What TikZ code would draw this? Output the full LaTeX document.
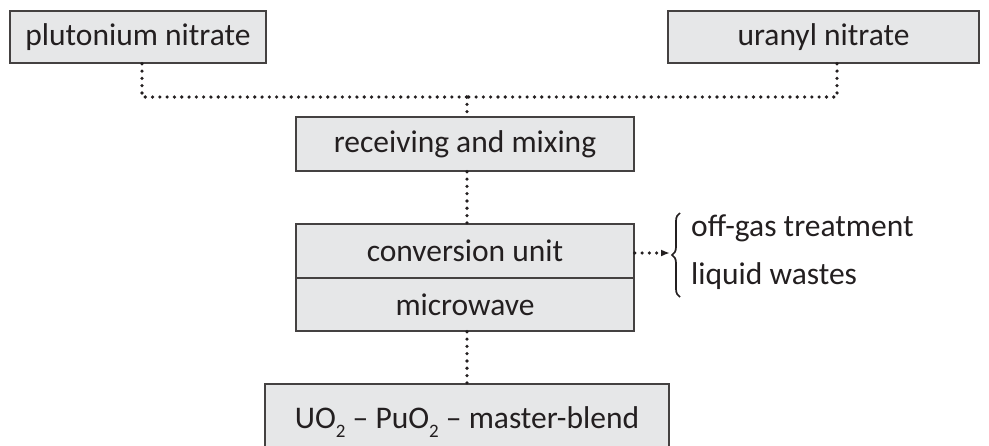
\documentclass[tikz,border=0pt]{standalone}
\usepackage{fontspec}
\setmainfont{Carlito}
\usetikzlibrary{arrows.meta,decorations.pathreplacing}
\definecolor{boxfill}{HTML}{E6E7E8}
\definecolor{ink}{HTML}{231F20}
\begin{document}
\begin{tikzpicture}[x=1pt,y=-1pt,
  box/.style={draw=ink!85, line width=1.5pt, fill=boxfill, inner sep=0pt, text=ink, font=\fontsize{31.5}{37}\selectfont},
  dotline/.style={draw=ink, line width=3.6pt, line cap=round, dash pattern=on 0pt off 7.3pt},
  lbl/.style={text=ink, font=\fontsize{31.5}{37}\selectfont, inner sep=0pt}]
\useasboundingbox (0,0) rectangle (989,445);
\clip (0,0) rectangle (989,445);
\node[box, minimum width=256pt, minimum height=52pt] (pu) at (138,37) {plutonium nitrate};
\node[box, minimum width=311pt, minimum height=52pt] (ur) at (823.5,37) {uranyl nitrate};
\node[box, minimum width=338pt, minimum height=54pt] (recv) at (465,144) {receiving and mixing};
\node[box, minimum width=338pt, minimum height=54pt] (conv) at (465,251) {conversion unit};
\node[box, minimum width=338pt, minimum height=53pt] (micro) at (465,304.5) {microwave};
\node[box, minimum width=404pt, minimum height=70pt] (blend) at (467,419) {};
\node[lbl, anchor=base] (blendtxt) at (467,428) {UO\raisebox{-0.3em}{\fontsize{19}{19}\selectfont 2} – PuO\raisebox{-0.3em}{\fontsize{19}{19}\selectfont 2} – master-blend};
\coordinate (j) at (467,97);
\coordinate (bt) at (670,253);
\draw[dotline] ([xshift=4pt]pu.south) |- (j);
\draw[dotline] ([xshift=13.5pt]ur.south) |- (j);
\draw[dotline] (j) -- (j |- recv.north);
\draw[dotline] (recv.south -| j) -- (conv.north -| j);
\draw[dotline] (micro.south -| j) -- (blend.north -| j);
\draw[dotline, -{Latex[length=9pt,width=7pt]}] ([yshift=-2pt]conv.east) -- (bt);
\draw[ink, line width=1.7pt, decorate, decoration={brace, amplitude=8pt}] (680,297) -- (680,213);
\node[lbl, anchor=base west] (offgas) at (691,236) {off-gas treatment};
\node[lbl, anchor=base west] (liquid) at (691,284) {liquid wastes};
\end{tikzpicture}
\end{document}
